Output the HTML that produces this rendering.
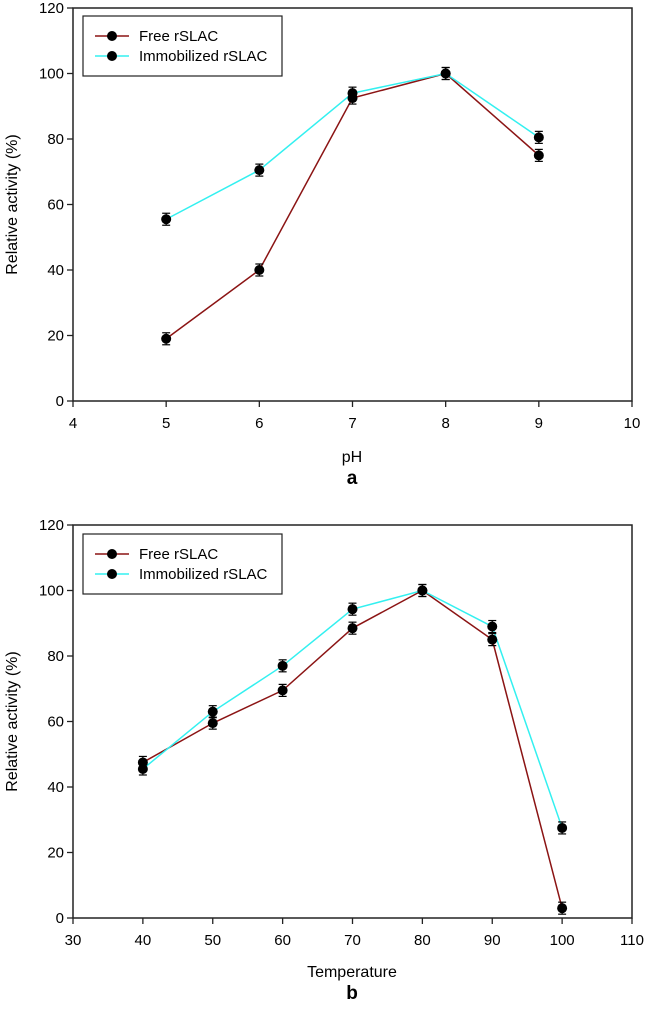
<!DOCTYPE html>
<html><head><meta charset="utf-8"><style>
body{margin:0;background:#fff;}
svg text{font-family:"Liberation Sans",Arial,sans-serif;fill:#000;}
</style></head><body>
<svg id="fig" width="646" height="1013" xmlns="http://www.w3.org/2000/svg"></svg>
<script>
const phCategories=[5,6,7,8,9];
const phFree=[19,40,92.5,100,75];
const phImmob=[55.5,70.5,94,100,80.5];
const phXTicks=[4,5,6,7,8,9,10];
const tempCategories=[40,50,60,70,80,90,100];
const tempFree=[47.5,59.5,69.5,88.5,100,85,3];
const tempImmob=[45.5,63,77,94.3,100,89,27.5];
const tempXTicks=[30,40,50,60,70,80,90,100,110];
const yTicks=[0,20,40,60,80,100,120];

const NS="http://www.w3.org/2000/svg";
const svg=document.getElementById('fig');
function mk(tag,attrs,parent){const e=document.createElementNS(NS,tag);for(const k in attrs)e.setAttribute(k,attrs[k]);(parent||svg).appendChild(e);return e;}

function chart(o){
  const g=mk('g',{});
  
  
  const L=73,R=632,T=o.top,B=o.top+393;
  const xs=v=>L+(v-o.xmin)/(o.xmax-o.xmin)*(R-L);
  const ys=v=>B-v/120*(B-T);
  const frame=mk('rect',{x:L,y:T,width:R-L,height:B-T,fill:'none',stroke:'#222','stroke-width':1.5},g);
  
  
  yTicks.forEach(v=>{
    mk('line',{x1:L-6,x2:L,y1:ys(v),y2:ys(v),stroke:'#222','stroke-width':1.3},g);
    const t=mk('text',{x:L-9,y:ys(v)+5,'text-anchor':'end','font-size':15},g);t.textContent=v;
    
    
  });
  o.xticks.forEach(v=>{
    mk('line',{x1:xs(v),x2:xs(v),y1:B,y2:B+6,stroke:'#222','stroke-width':1.3},g);
    const t=mk('text',{x:xs(v),y:B+27,'text-anchor':'middle','font-size':15},g);t.textContent=v;
    
    
  });
  const yt=mk('text',{x:0,y:0,'text-anchor':'middle','font-size':16,transform:`translate(17,${(T+B)/2}) rotate(-90)`},g);
  yt.textContent='Relative activity (%)';
  
  
  const xt=mk('text',{x:352,y:o.xlabelY,'text-anchor':'middle','font-size':16},g);
  xt.textContent=o.xlabel;
  
  
  const pl=mk('text',{x:352,y:o.xlabelY+22,'text-anchor':'middle','font-size':19,'font-weight':'bold'},g);
  pl.textContent=o.panel;
  
  
  [[o.free,'#8b1414','series-free'],[o.immob,'#33f0f0','series-immobilized']].forEach(([vals,col,nm])=>{
    const pts=o.cats.map((c,i)=>xs(c)+','+ys(vals[i])).join(' ');
    const ln=mk('polyline',{points:pts,fill:'none',stroke:col,'stroke-width':1.5},g);
    
    
  });
  [o.free,o.immob].forEach((vals,si)=>{
    o.cats.forEach((c,i)=>{
      const x=xs(c),y=ys(vals[i]);
      mk('line',{x1:x,x2:x,y1:y-6,y2:y+6,stroke:'#000','stroke-width':1.2},g);
      mk('line',{x1:x-4,x2:x+4,y1:y-6,y2:y-6,stroke:'#000','stroke-width':1.2},g);
      mk('line',{x1:x-4,x2:x+4,y1:y+6,y2:y+6,stroke:'#000','stroke-width':1.2},g);
      const m=mk('circle',{cx:x,cy:y,r:5,fill:'#000'},g);
      
      
    });
  });
  const lg=mk('g',{},g);
  
  
  const ly=o.legY;
  mk('rect',{x:83,y:ly,width:199,height:60,fill:'#fff',stroke:'#222','stroke-width':1.2},lg);
  [['Free rSLAC','#8b1414'],['Immobilized rSLAC','#33f0f0']].forEach(([lab,col],i)=>{
    const yy=ly+20+i*20;
    mk('line',{x1:95,x2:129,y1:yy,y2:yy,stroke:col,'stroke-width':1.5},lg);
    mk('circle',{cx:112,cy:yy,r:5,fill:'#000'},lg);
    const t=mk('text',{x:139,y:yy+5,'font-size':15},lg);t.textContent=lab;
    
    
  });
}
chart({name:'ph-chart',top:8,xmin:4,xmax:10,xticks:phXTicks,cats:phCategories,free:phFree,immob:phImmob,xlabel:'pH',xlabelY:462,panel:'a',legY:16});
chart({name:'temperature-chart',top:525,xmin:30,xmax:110,xticks:tempXTicks,cats:tempCategories,free:tempFree,immob:tempImmob,xlabel:'Temperature',xlabelY:977,panel:'b',legY:534});
</script>
</body></html>
